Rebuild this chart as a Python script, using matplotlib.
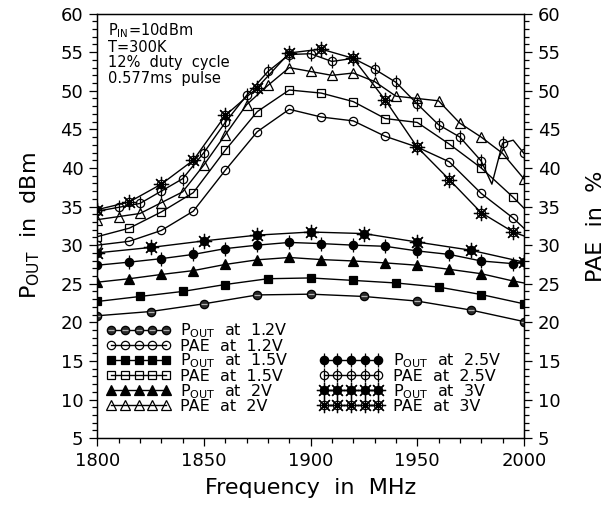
import matplotlib
matplotlib.use('Agg')
import matplotlib.pyplot as plt
from matplotlib.lines import Line2D
from matplotlib.legend_handler import HandlerTuple
from matplotlib.ticker import MultipleLocator

plt.rcParams['font.family'] = 'DejaVu Sans'
plt.rcParams['mathtext.default'] = 'regular'

# values (MHz, dBm / %)
f_pout_12 = [1800, 1825, 1850, 1875, 1900, 1925, 1950, 1975, 2000]
pout_12 = [20.85, 21.4, 22.4, 23.55, 23.65, 23.35, 22.75, 21.6, 20.1]

f_pout_15 = [1800, 1820, 1840, 1860, 1880, 1900, 1920, 1940, 1960, 1980, 2000]
pout_15 = [22.7, 23.35, 24.0, 24.9, 25.65, 25.75, 25.43, 25.1, 24.57, 23.6, 22.4]

f_pout_2 = [1800, 1815, 1830, 1845, 1860, 1875, 1890, 1905, 1920, 1935, 1950, 1965, 1980, 1995, 2000]
pout_2 = [25.2, 25.65, 26.2, 26.7, 27.5, 28.1, 28.4, 28.13, 27.95, 27.7, 27.4, 26.87, 26.3, 25.35, 25.1]

f_pout_25 = [1800, 1815, 1830, 1845, 1860, 1875, 1890, 1905, 1920, 1935, 1950, 1965, 1980, 1995, 2000]
pout_25 = [27.4, 27.8, 28.25, 28.8, 29.55, 30.0, 30.35, 30.2, 30.0, 29.85, 29.25, 28.8, 27.95, 27.6, 27.75]

f_pout_3 = [1800, 1825, 1850, 1875, 1900, 1925, 1950, 1975, 2000]
pout_3 = [29.0, 29.7, 30.55, 31.3, 31.7, 31.5, 30.4, 29.35, 27.8]

f_pae_12 = [1800, 1815, 1830, 1845, 1860, 1875, 1890, 1905, 1920, 1935, 1950, 1965, 1980, 1995, 2000]
pae_12 = [30.0, 30.5, 31.9, 34.4, 39.7, 44.7, 47.6, 46.6, 46.1, 44.1, 42.7, 40.8, 36.7, 33.5, 32.2]

f_pae_15 = [1800, 1815, 1830, 1845, 1860, 1875, 1890, 1905, 1920, 1935, 1950, 1965, 1980, 1995, 2000]
pae_15 = [31.1, 32.2, 34.3, 36.8, 42.3, 47.3, 50.1, 49.7, 48.6, 46.4, 45.9, 43.1, 40.0, 36.2, 34.8]

f_pae_2 = [1800, 1810, 1820, 1830, 1840, 1850, 1860, 1870, 1880, 1890, 1900,
           1910, 1920, 1930, 1940, 1950, 1960, 1970, 1980, 1990, 2000]
pae_2 = [33.3, 33.7, 34.1, 35.5, 36.9, 40.4, 44.3, 48.2, 50.7, 53.0, 52.5,
         52.0, 52.3, 51.2, 49.3, 49.0, 48.7, 45.8, 44.0, 41.9, 38.6]

f_pae_25 = [1800, 1810, 1820, 1830, 1840, 1850, 1860, 1870, 1880, 1890, 1900,
            1910, 1920, 1930, 1940, 1950, 1960, 1970, 1980, 1985, 1990, 1995, 2000]
pae_25 = [34.4, 34.9, 35.4, 37.0, 38.6, 42.0, 45.9, 49.4, 52.5, 54.7, 54.8,
          53.8, 54.2, 52.8, 51.1, 48.3, 45.6, 44.0, 40.9, 37.9, 43.2, 43.6, 41.9]

f_pae_3 = [1800, 1815, 1830, 1845, 1860, 1875, 1890, 1905, 1920, 1935, 1950, 1965, 1980, 1995, 2000]
pae_3 = [34.6, 35.6, 37.9, 41.0, 46.8, 50.4, 54.9, 55.4, 54.2, 48.8, 42.7, 38.5, 34.2, 31.7, 31.2]

# which points carry a marker (the rest only shape the line)
mk_all = None
mk_no_last = list(range(14))
mk_pae_25 = list(range(19)) + [20, 22]

STAR = (8, 2, 0)
SIZES = {'o': 6, 's': 5.5, '^': 6.5, '_': 5, '|': 10, STAR: 11}

series = [
    # x, y, markevery, marker, face, overlay marker, overlay colour, label
    (f_pout_12, pout_12, mk_all, 'o', '#2a2a2a', '_', '#b0b0b0', r'P$_{OUT}$  at  1.2V'),
    (f_pae_12, pae_12, mk_no_last, 'o', 'none', None, None, 'PAE  at  1.2V'),
    (f_pout_15, pout_15, mk_all, 's', 'black', None, None, r'P$_{OUT}$  at  1.5V'),
    (f_pae_15, pae_15, mk_no_last, 's', 'none', None, None, 'PAE  at  1.5V'),
    (f_pout_2, pout_2, mk_no_last, '^', 'black', None, None, r'P$_{OUT}$  at  2V'),
    (f_pae_2, pae_2, mk_all, '^', 'none', None, None, 'PAE  at  2V'),
    (f_pout_25, pout_25, mk_no_last, 'o', 'black', '|', 'black', r'P$_{OUT}$  at  2.5V'),
    (f_pae_25, pae_25, mk_pae_25, 'o', 'none', '|', 'black', 'PAE  at  2.5V'),
    (f_pout_3, pout_3, mk_all, 'o', 'black', STAR, 'black', r'P$_{OUT}$  at  3V'),
    (f_pae_3, pae_3, mk_no_last, 'o', 'none', STAR, 'black', 'PAE  at  3V'),
]

fig = plt.figure(figsize=(6.12, 5.13), dpi=100)
ax = fig.add_axes([0.159, 0.146, 0.697, 0.8275])

handles = []
labels = []
for x, y, every, m, face, over, oc, lab in series:
    ax.plot(x, y, color='black', lw=1.0, marker=m, ms=SIZES[m], mfc=face,
            mec='black', mew=0.9, markevery=every)
    h = Line2D([], [], color='black', lw=1.0, marker=m, ms=SIZES[m], mfc=face,
               mec='black', mew=0.9)
    if over is not None:
        ax.plot(x, y, ls='none', marker=over, ms=SIZES[over], mec=oc, mew=0.9,
                markevery=every)
        h = (h, Line2D([], [], ls='none', marker=over, ms=SIZES[over], mec=oc, mew=0.9))
    handles.append(h)
    labels.append(lab)

ax.set_xlim(1800, 2000)
ax.set_ylim(5, 60)
ax.xaxis.set_major_locator(MultipleLocator(50))
ax.xaxis.set_minor_locator(MultipleLocator(10))
ax.yaxis.set_major_locator(MultipleLocator(5))
ax.yaxis.set_minor_locator(MultipleLocator(1))
ax.tick_params(which='both', direction='out', top=False, right=False, labelsize=13, width=0.9)
ax.tick_params(which='major', length=6, pad=4)
ax.tick_params(which='minor', length=3.5)
for s in ax.spines.values():
    s.set_linewidth(1.0)

ax2 = ax.twinx()
ax2.set_ylim(5, 60)
ax2.yaxis.set_major_locator(MultipleLocator(5))
ax2.yaxis.set_minor_locator(MultipleLocator(1))
ax2.tick_params(which='both', direction='out', labelsize=13, width=0.9)
ax2.tick_params(which='major', length=6, pad=4)
ax2.tick_params(which='minor', length=3.5)

ax.set_xlabel('Frequency  in  MHz', fontsize=16, labelpad=6)
ax.set_ylabel(r'P$_{OUT}$  in  dBm', fontsize=16, labelpad=13)
ax2.set_ylabel('PAE  in  %', fontsize=16, labelpad=18)

ax.text(0.026, 0.982, 'P$_{IN}$=10dBm\nT=300K\n12%  duty  cycle\n0.577ms  pulse',
        transform=ax.transAxes, ha='left', va='top', fontsize=10.5, linespacing=1.02)

common = dict(numpoints=5, handlelength=4.0, handletextpad=0.6, labelspacing=-0.11,
              frameon=False, fontsize=11.5, borderpad=0, borderaxespad=0,
              handler_map={tuple: HandlerTuple(ndivide=1)})
leg1 = ax.legend(handles[:6], labels[:6], loc='lower left',
                 bbox_to_anchor=(0.022, 0.057), **common)
ax.add_artist(leg1)
ax.legend(handles[6:], labels[6:], loc='lower left',
          bbox_to_anchor=(0.52, 0.057), **common)

fig.savefig('out.png', dpi=100)
